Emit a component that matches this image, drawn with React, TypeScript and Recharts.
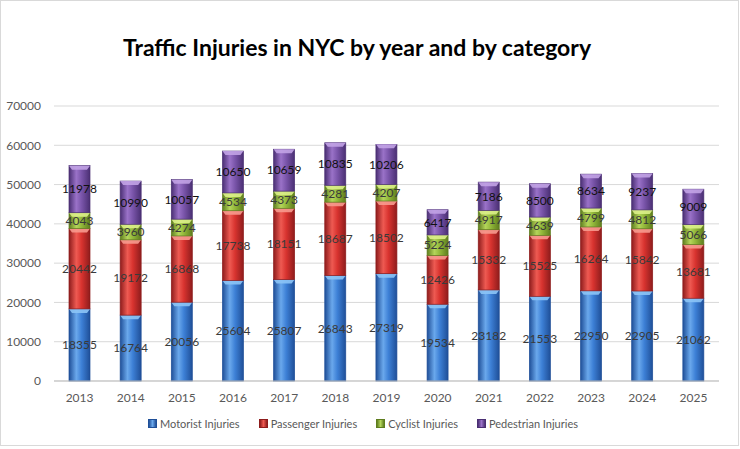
import React from "react";
import { BarChart, Bar, XAxis, YAxis, CartesianGrid, Legend, LabelList } from "recharts";

const years = ["2013","2014","2015","2016","2017","2018","2019","2020","2021","2022","2023","2024","2025"];
const motorist = [18355,16764,20056,25604,25807,26843,27319,19534,23182,21553,22950,22905,21062];
const passenger = [20442,19172,16868,17738,18151,18687,18502,12426,15332,15525,16264,15842,13681];
const cyclist = [4043,3960,4274,4534,4373,4281,4207,5224,4917,4639,4799,4812,5066];
const pedestrian = [11978,10990,10057,10650,10659,10835,10206,6417,7186,8500,8634,9237,9009];
const yTicks = [0,10000,20000,30000,40000,50000,60000,70000];

const data = years.map((y, i) => ({
  year: y,
  motorist: motorist[i],
  passenger: passenger[i],
  cyclist: cyclist[i],
  pedestrian: pedestrian[i],
}));

const series = [
  { key: "motorist", name: "Motorist Injuries", light: "#6aa8ec", mid: "#3d80d6", dark: "#1f4f98", cap: "#8cc4f6", label: "#3a3a3a" },
  { key: "passenger", name: "Passenger Injuries", light: "#ee5a52", mid: "#d8332f", dark: "#8e1c1c", cap: "#f79a8e", label: "#3a3a3a" },
  { key: "cyclist", name: "Cyclist Injuries", light: "#b4d55a", mid: "#92b83a", dark: "#5e7d1e", cap: "#dcf08a", label: "#3a3a3a" },
  { key: "pedestrian", name: "Pedestrian Injuries", light: "#9a72c8", mid: "#7a55aa", dark: "#4a2f73", cap: "#c2a3e6", label: "#111111" },
];

const makeShape = (s: any) => (props: any) => {
  const { x, y, width, height } = props;
  if (!height || height <= 0) return null;
  const c = Math.min(4, height / 2);
  return (
    <g>
      <rect x={x} y={y} width={width} height={height} fill={`url(#g-${s.key})`} stroke={s.dark} strokeWidth={0.7} />
      <path
        d={`M${x},${y} L${x + width},${y} L${x + width - 3},${y + c} L${x + 3},${y + c} Z`}
        fill={s.cap}
        opacity={0.9}
      />
    </g>
  );
};

const renderLegend = () => (
  <div style={{ display: "flex", justifyContent: "center", alignItems: "center", fontFamily: "Lato, 'Open Sans', sans-serif", fontSize: 11, color: "#595959", gap: 19, paddingLeft: 7 }}>
    {series.map((s) => (
      <div key={s.key} style={{ display: "flex", alignItems: "center" }}>
        <span style={{ display: "inline-block", width: 7, height: 7, background: `linear-gradient(to right, ${s.dark}, ${s.light}, ${s.dark})`, border: `1px solid ${s.dark}`, marginRight: 3 }} />
        <span>{s.name}</span>
      </div>
    ))}
  </div>
);

export default function App() {
  return (
    <div style={{ position: "absolute", left: 0, top: 0, width: 740, height: 449, background: "#fff" }}>
      <div style={{ position: "absolute", left: 0, top: 0, width: 739, height: 446, border: "1px solid #d9d9d9", boxSizing: "border-box" }} />
      <div style={{ position: "absolute", left: 0, top: 33, width: 714, textAlign: "center", fontFamily: "Lato, 'Open Sans', sans-serif", fontWeight: 700, fontSize: 23, color: "#000" }}>
        Traffic Injuries in NYC by year and by category
      </div>
      <BarChart width={740} height={449} data={data} margin={{ top: 106, right: 21, bottom: 12, left: 0 }} barSize={21}>
        <defs>
          {series.map((s) => (
            <linearGradient key={s.key} id={`g-${s.key}`} x1="0" y1="0" x2="1" y2="0">
              <stop offset="0%" stopColor={s.dark} />
              <stop offset="35%" stopColor={s.light} />
              <stop offset="60%" stopColor={s.mid} />
              <stop offset="100%" stopColor={s.dark} />
            </linearGradient>
          ))}
        </defs>
        <CartesianGrid vertical={false} stroke="#d9d9d9" />
        <XAxis dataKey="year" height={36} tickLine={false} axisLine={{ stroke: "#bfbfbf" }} tick={{ fill: "#595959", fontSize: 12, fontFamily: "Lato, 'Open Sans', sans-serif" }} tickMargin={6} />
        <YAxis width={54} domain={[0, 70000]} ticks={yTicks} tickLine={false} axisLine={false} tick={{ fill: "#595959", fontSize: 12, fontFamily: "Lato, 'Open Sans', sans-serif" }} tickMargin={7} interval={0} />
        <Legend verticalAlign="bottom" height={20} content={renderLegend} />
        {series.map((s) => (
          <Bar key={s.key} dataKey={s.key} name={s.name} stackId="a" fill={s.mid} isAnimationActive={false} shape={makeShape(s)}>
            <LabelList dataKey={s.key} position="center" fill={s.label} fontSize={12} fontFamily="Lato, 'Open Sans', sans-serif" />
          </Bar>
        ))}
      </BarChart>
    </div>
  );
}
